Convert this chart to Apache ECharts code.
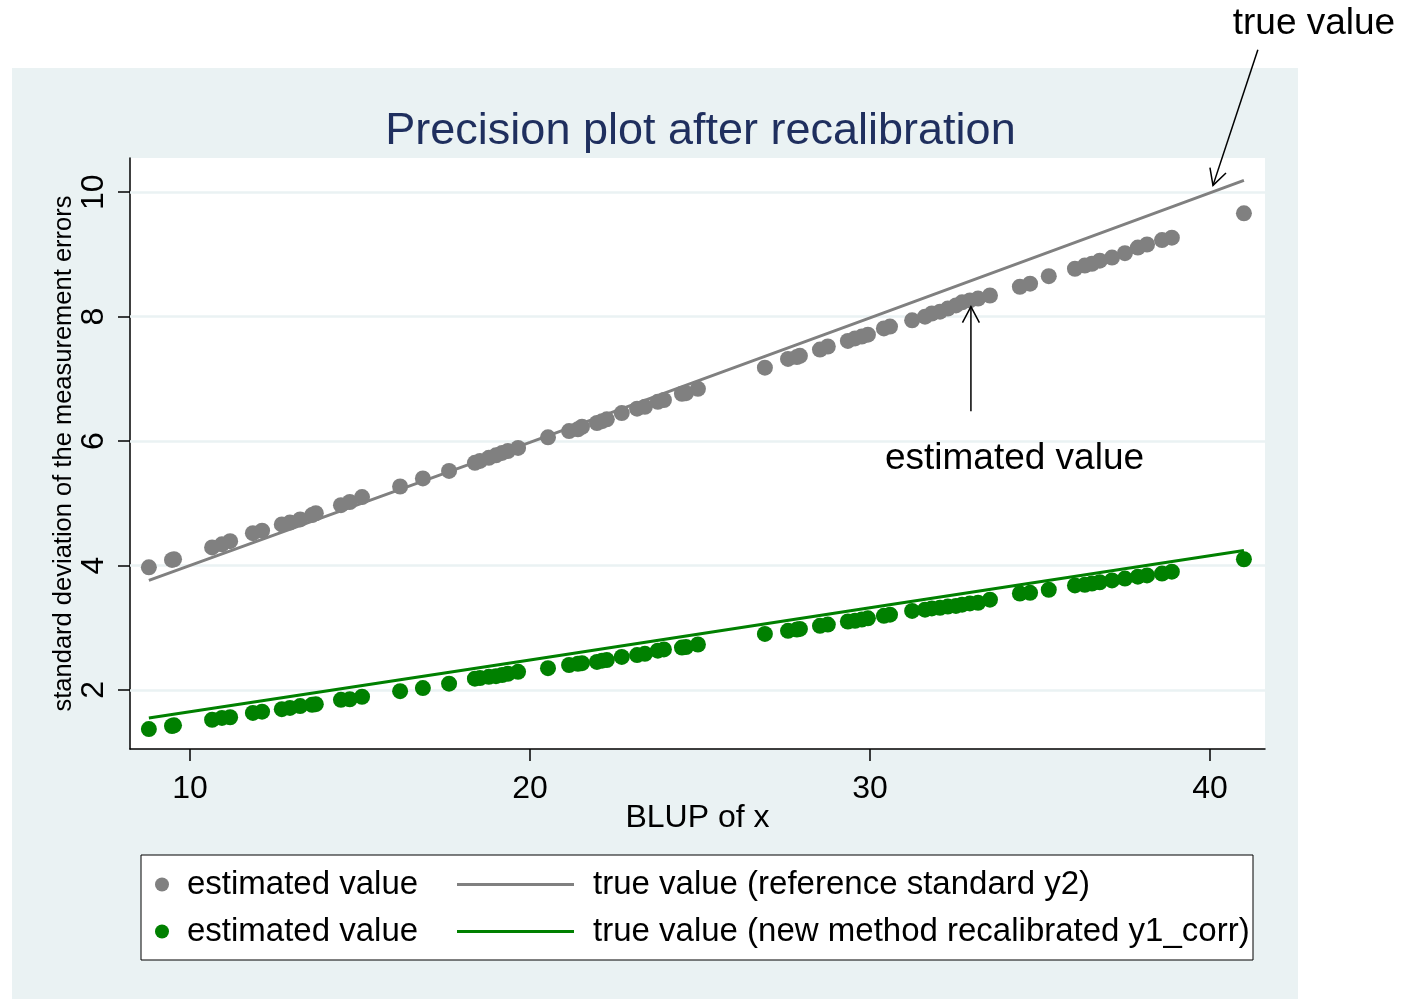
<!DOCTYPE html>
<html>
<head>
<meta charset="utf-8">
<script src="https://cdn.jsdelivr.net/npm/echarts@6/dist/echarts.min.js"></script>
<style>
html,body{margin:0;padding:0;background:#ffffff;}
#chart{width:1401px;height:999px;}
</style>
</head>
<body>
<div id="chart"></div>
<script>
// ---------------- data ----------------
const blupX = [8.79, 9.47, 9.53, 10.65, 10.94, 11.18, 11.85, 12.12, 12.7, 12.94, 13.24, 13.59, 13.7, 14.44, 14.7, 15.06, 16.18, 16.85, 17.62, 18.38, 18.53, 18.79, 19.0, 19.18, 19.35, 19.65, 20.53, 21.15, 21.41, 21.53, 21.97, 22.12, 22.26, 22.7, 23.15, 23.38, 23.76, 23.94, 24.47, 24.59, 24.94, 26.91, 27.59, 27.85, 27.94, 28.53, 28.76, 29.35, 29.56, 29.76, 29.94, 30.41, 30.59, 31.24, 31.62, 31.82, 32.06, 32.29, 32.53, 32.71, 32.94, 33.18, 33.53, 34.41, 34.71, 35.26, 36.03, 36.32, 36.53, 36.76, 37.12, 37.5, 37.88, 38.15, 38.59, 38.88, 41.0];
const estGray = [3.97, 4.09, 4.10, 4.29, 4.34, 4.39, 4.52, 4.56, 4.66, 4.69, 4.74, 4.81, 4.84, 4.97, 5.02, 5.10, 5.27, 5.40, 5.52, 5.65, 5.68, 5.73, 5.77, 5.81, 5.84, 5.89, 6.06, 6.16, 6.19, 6.23, 6.29, 6.32, 6.35, 6.45, 6.52, 6.55, 6.63, 6.66, 6.76, 6.77, 6.84, 7.18, 7.32, 7.35, 7.37, 7.47, 7.52, 7.61, 7.65, 7.68, 7.71, 7.81, 7.84, 7.94, 8.00, 8.05, 8.08, 8.13, 8.18, 8.23, 8.26, 8.29, 8.34, 8.48, 8.53, 8.65, 8.77, 8.82, 8.85, 8.90, 8.95, 9.02, 9.11, 9.16, 9.23, 9.27, 9.66];
const estGreen = [1.37, 1.42, 1.43, 1.52, 1.55, 1.56, 1.63, 1.65, 1.69, 1.71, 1.74, 1.76, 1.77, 1.84, 1.85, 1.89, 1.98, 2.03, 2.10, 2.18, 2.19, 2.21, 2.22, 2.24, 2.26, 2.29, 2.35, 2.40, 2.42, 2.43, 2.45, 2.47, 2.48, 2.53, 2.56, 2.58, 2.63, 2.65, 2.68, 2.69, 2.73, 2.90, 2.95, 2.97, 2.98, 3.03, 3.05, 3.10, 3.11, 3.13, 3.15, 3.19, 3.21, 3.27, 3.29, 3.31, 3.32, 3.34, 3.35, 3.37, 3.39, 3.40, 3.45, 3.55, 3.56, 3.61, 3.68, 3.69, 3.71, 3.73, 3.76, 3.79, 3.82, 3.84, 3.87, 3.90, 4.10];
const trueX = [8.79, 20, 30, 41.0];
const trueGray = [3.76, 5.98, 7.98, 10.19];
const trueGreen = [1.55, 2.48, 3.32, 4.24];
const xTicks = [10, 20, 30, 40];
const yTicks = [2, 4, 6, 8, 10];

const titleText = 'Precision plot after recalibration';
const xName = 'BLUP of x';
const yName = 'standard deviation of the measurement errors';
const estName = 'estimated value';
const trueGrayName = 'true value (reference standard y2)';
const trueGreenName = 'true value (new method recalibrated y1_corr)';

// annotation anchors (data coordinates)
const annTrue = {text: 'true value', textAt: [43.06, 12.71], tail: [41.41, 12.29], tip: [40.09, 10.11]};
const annEst = {text: 'estimated value', textAt: [30.44, 5.71], tail: [32.97, 6.48], tip: [32.97, 8.16]};

// ---------------- chart ----------------
const FONT = '"Liberation Sans", Arial, Helvetica, sans-serif';
const GRAY = '#808080';
const GREEN = '#008000';
const BG = '#EAF2F3';

const pairs = (xs, ys) => xs.map((x, i) => [x, ys[i]]);

const chart = echarts.init(document.getElementById('chart'), null, {renderer: 'canvas'});

const option = {
  animation: false,
  backgroundColor: '#ffffff',
  textStyle: {fontFamily: FONT},
  title: {
    text: titleText, left: 'center', top: 104,
    textStyle: {fontFamily: FONT, fontSize: 45, fontWeight: 'normal', color: '#1f2f5e'}
  },
  grid: {
    left: 130, top: 158, right: 136, bottom: 250,
    show: true, backgroundColor: '#ffffff', borderWidth: 0
  },
  xAxis: {
    type: 'value', min: 8.235, max: 41.62,
    name: xName, nameLocation: 'middle', nameGap: 53, nameMoveOverlap: false,
    nameTextStyle: {fontFamily: FONT, fontSize: 32, color: '#000'},
    axisLine: {show: true, onZero: false, lineStyle: {color: '#000', width: 1.5}},
    axisTick: {show: true, length: 12, customValues: xTicks, lineStyle: {color: '#000', width: 1.5}},
    axisLabel: {customValues: xTicks, margin: 24, fontFamily: FONT, fontSize: 32, color: '#000'},
    splitLine: {show: false}
  },
  yAxis: {
    type: 'value', min: 1.05, max: 10.55,
    name: yName, nameLocation: 'middle', nameGap: 53, nameRotate: 90, nameMoveOverlap: false,
    nameTextStyle: {fontFamily: FONT, fontSize: 25.5, color: '#000'},
    axisLine: {show: true, onZero: false, lineStyle: {color: '#000', width: 1.5}},
    axisTick: {show: true, length: 12, customValues: yTicks, lineStyle: {color: '#000', width: 1.5}},
    axisLabel: {customValues: yTicks, rotate: 90, margin: 20, fontFamily: FONT, fontSize: 32, color: '#000'},
    splitLine: {show: false}
  },
  legend: [
    {
      data: ['estGray', 'estGreen'], formatter: () => estName,
      orient: 'vertical', left: 150, top: 863, itemWidth: 40, itemHeight: 14, itemGap: 14,
      selectedMode: false,
      textStyle: {fontFamily: FONT, fontSize: 33, color: '#000'}
    },
    {
      data: [trueGrayName, trueGreenName],
      orient: 'vertical', left: 452, top: 863, itemWidth: 117, itemHeight: 14, itemGap: 14,
      icon: 'path://M0,6 L117,6 L117,9 L0,9 Z',
      selectedMode: false,
      textStyle: {fontFamily: FONT, fontSize: 33, color: '#000', padding: [0, 0, 0, 14]}
    }
  ],
  series: [
    {
      name: 'estGray', type: 'scatter', data: pairs(blupX, estGray),
      symbol: 'circle', symbolSize: 16, itemStyle: {color: GRAY, opacity: 1}, z: 2,
      markLine: {
        silent: true, symbol: 'none', label: {show: false}, z: 1,
        lineStyle: {color: BG, width: 2.5, type: 'solid'},
        data: yTicks.map(v => ({yAxis: v}))
      }
    },
    {
      name: trueGrayName, type: 'line', data: pairs(trueX, trueGray),
      showSymbol: false, symbol: 'none', lineStyle: {color: GRAY, width: 3}, itemStyle: {color: GRAY}, z: 3
    },
    {
      name: 'estGreen', type: 'scatter', data: pairs(blupX, estGreen),
      symbol: 'circle', symbolSize: 16, itemStyle: {color: GREEN, opacity: 1}, z: 4
    },
    {
      name: trueGreenName, type: 'line', data: pairs(trueX, trueGreen),
      showSymbol: false, symbol: 'none', lineStyle: {color: GREEN, width: 3}, itemStyle: {color: GREEN}, z: 5
    }
  ]
};
chart.setOption(option);

// ---------------- graphics (background, legend box, annotations) ----------------
const px = p => chart.convertToPixel({gridIndex: 0}, p);
function arrowGraphics(ann, id) {
  const t = px(ann.tip), s = px(ann.tail), c = px(ann.textAt);
  const dx = t[0] - s[0], dy = t[1] - s[1];
  const len = Math.hypot(dx, dy), ux = dx / len, uy = dy / len;
  const L = 18, th = 28 * Math.PI / 180;
  const rot = (a) => [ux * Math.cos(a) - uy * Math.sin(a), ux * Math.sin(a) + uy * Math.cos(a)];
  const r1 = rot(th), r2 = rot(-th);
  const h1 = [t[0] - L * r1[0], t[1] - L * r1[1]];
  const h2 = [t[0] - L * r2[0], t[1] - L * r2[1]];
  return [
    {type: 'line', id: id + 'shaft', z: 20, shape: {x1: s[0], y1: s[1], x2: t[0], y2: t[1]}, style: {stroke: '#000', lineWidth: 1.5}},
    {type: 'polyline', id: id + 'head', z: 20, shape: {points: [h1, t, h2]}, style: {stroke: '#000', lineWidth: 1.5, fill: null}},
    {type: 'text', id: id + 'text', z: 20, x: c[0], y: c[1],
      style: {text: ann.text, font: '37px ' + FONT, fill: '#000',
        textAlign: id === 'true' ? 'center' : 'left', textVerticalAlign: 'middle'}}
  ];
}

chart.setOption({
  graphic: [
    {type: 'rect', id: 'outerbg', z: -1, shape: {x: 12, y: 68, width: 1286, height: 931}, style: {fill: BG}, silent: true},
    {type: 'rect', id: 'legendbox', z: 1, shape: {x: 141, y: 855, width: 1112, height: 105}, style: {fill: '#fff', stroke: '#000', lineWidth: 1}, silent: true}
  ].concat(arrowGraphics(annTrue, 'true'), arrowGraphics(annEst, 'est'))
});
</script>
</body>
</html>
